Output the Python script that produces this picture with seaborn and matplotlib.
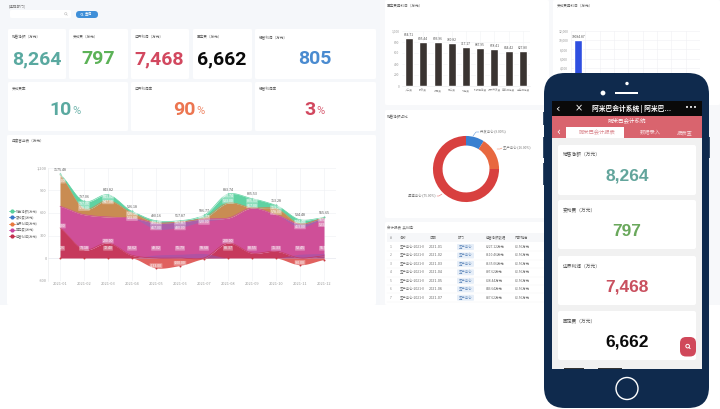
import numpy as np
import seaborn as sns
import matplotlib.pyplot as plt
from matplotlib.patches import Rectangle, FancyBboxPatch, Circle

# kpi cards
kpi_titles = ['销售净额（万元）', '变动费（万元）', '边界利润（万元）', '固定费（万元）', '经营利润（万元）']
kpi_values = ['8,264', '797', '7,468', '6,662', '805']
kpi_colors = ['#5aa9a0', '#5cb257', '#d2485f', '#0a0a0a', '#4a8bd0']
rate_titles = ['变动费率', '边界利润率', '经营利润率']
rate_values = ['10', '90', '3']
rate_colors = ['#5aa9a0', '#ec7550', '#d2485f']

# stacked area, monthly values
months = ['2021-01', '2021-02', '2021-03', '2021-04', '2021-05', '2021-06',
          '2021-07', '2021-08', '2021-09', '2021-10', '2021-11', '2021-12']
profit_pos = [402, 111, 200, 35, 0, 0, 0, 200, 65, 90, 0, 30]
profit_neg = [0, 0, 0, 0, -133, -100, -10, 0, 0, 0, -90, -20]
fixed_cost = [288, 467, 347, 498, 467, 480, 520, 333, 602, 488, 453, 503]
margin = [420, 80, 222, 67, 3, 2, 15, 200, 3, 80, 2, 2]
sales_extra = [10, 97, 75, 22, 27, 15, 35, 120, 121, 44, 55, 5]
purple_top = [0, 0, 0, 0, 80, 70, 30, 0, 0, 0, 40, 10]
purple_low = [0, 0, 0, 0, 40, 50, 60, 0, 0, 0, 50, 60]
top_labels = ['1175.48', '797.06', '843.82', '536.18', '490.16', '517.87',
              '586.77', '883.74', '805.53', '713.28', '534.48', '555.65']
var_labels = ['75.26', '73.18', '72.40', '53.62', '49.02', '51.79',
              '58.68', '88.37', '80.55', '71.33', '53.45', '55.57']
legend_names = ['销售净额(万元)', '变动费(万元)', '边界利润(万元)', '固定费(万元)', '经营利润(万元)']
legend_colors = ['#56cf9b', '#3a78c8', '#e8793f', '#c945a0', '#c4304f']

# bar charts
cost_names = ['人工费', '研发费', '折旧费', '办公费', '水电费', '科技运输费', '技术开发费', '差旅招待费', '业务招待费']
cost_values = [864.71, 805.44, 803.96, 780.82, 717.17, 687.95, 678.41, 644.42, 627.80]
var_names = ['材料费']
var_values = [10084.87]

# donut
dept_names = ['开发中心', '生产中心', '渠道中心']
dept_values = [9.0, 16.0, 75.0]
dept_colors = ['#3a80d0', '#e8683f', '#d8403f']

# table
tbl_dates = ['2021-01', '2021-02', '2021-03', '2021-04', '2021-05', '2021-06', '2021-07']
tbl_sales = ['¥227.12万元', '¥110.46万元', '¥135.06万元', '¥97.62万元', '¥38.44万元', '¥46.64万元', '¥87.62万元']

sns.set_theme(style='white')
plt.rcParams['font.family'] = ['Noto Sans CJK SC', 'DejaVu Sans']
W, H = 720, 409
BIG = 'Roboto'

fig = plt.figure(figsize=(7.2, 4.09), dpi=100, facecolor='white')
bg = fig.add_axes([0, 0, 1, 1], zorder=0)
bg.set_xlim(0, W)
bg.set_ylim(H, 0)
bg.axis('off')


def px_axes(x0, y0, x1, y1, z=1):
    ax = fig.add_axes([x0 / W, 1 - y1 / H, (x1 - x0) / W, (y1 - y0) / H], zorder=z)
    ax.patch.set_alpha(0)
    return ax


def box(ax, x0, y0, x1, y1, color='white', rad=1.5, **kw):
    ax.add_patch(FancyBboxPatch((x0 + rad, y0 + rad), x1 - x0 - 2 * rad, y1 - y0 - 2 * rad,
                                boxstyle=f'round,pad={rad},rounding_size={rad}',
                                fc=color, ec='none', **kw))


def loupe(ax, cx, cy, r, color, lw):
    # magnifier icon, no installed font has the glyph
    ax.add_patch(Circle((cx - r * 0.2, cy - r * 0.2), r, fc='none', ec=color, lw=lw))
    ax.plot([cx + r * 0.5, cx + r * 1.2], [cy + r * 0.5, cy + r * 1.2], color=color, lw=lw)


def smooth(y, n=24):
    # cubic hermite through the monthly values, echarts style smooth line
    y = np.asarray(y, dtype=float)
    m = np.gradient(y) * 0.8
    xs, ys = [], []
    for i in range(len(y) - 1):
        t = np.linspace(0, 1, n)
        h = (2*t**3 - 3*t**2 + 1)*y[i] + (t**3 - 2*t**2 + t)*m[i] + (-2*t**3 + 3*t**2)*y[i+1] + (t**3 - t**2)*m[i+1]
        xs.append(i + t)
        ys.append(h)
    return np.concatenate(xs), np.concatenate(ys)


# page background
bg.add_patch(Rectangle((0, 0), 380, 305, fc='#f5f7fa', ec='none'))
bg.add_patch(Rectangle((380, 0), 340, 305, fc='#f7f8fa', ec='none'))

# filter row
bg.text(9, 6, '[选择部门]', fontsize=2.6, color='#777', va='center')
box(bg, 10, 10, 71, 18)
loupe(bg, 66, 14, 1.2, '#aaa', 0.3)
box(bg, 76, 11, 98, 18, color='#3f8fd8', rad=3.4)
loupe(bg, 82, 14.5, 1.0, 'white', 0.3)
bg.text(88.5, 14.5, '查询', fontsize=2.6, color='white', ha='center', va='center')

# kpi rows
row1 = [(8, 66), (69, 128), (131, 189), (193, 252), (255, 376)]
for (x0, x1), t, v, c in zip(row1, kpi_titles, kpi_values, kpi_colors):
    box(bg, x0, 29, x1, 79)
    bg.text(x0 + 4, 37, t, fontsize=2.6, color='#666', va='center')
    bg.text((x0 + x1) / 2 - 0.5, 59, v, fontsize=14, color=c, ha='center', va='center',
            family=BIG, weight='bold')
row2 = [(8, 128), (131, 252), (255, 376)]
for (x0, x1), t, v, c in zip(row2, rate_titles, rate_values, rate_colors):
    box(bg, x0, 82, x1, 131)
    bg.text(x0 + 4, 89, t, fontsize=2.6, color='#666', va='center')
    xe = (x0 + x1) / 2 + 4 * (len(v) - 1)
    bg.text(xe, 110, v, fontsize=14, color=c, ha='right', va='center', family=BIG, weight='bold')
    bg.text(xe + 0.5, 111, '%', fontsize=8, color=c, ha='left', va='center', family=BIG, alpha=0.85)

# area chart card
box(bg, 7, 135, 376, 305)
bg.text(12, 141, '月度营业表（万元）', fontsize=2.6, color='#666', va='center')

ax = px_axes(48, 168, 336, 280.5)
x = np.arange(len(months))
layers = [np.array(profit_pos), np.array(fixed_cost), np.array(margin), np.array(sales_extra)]
tops = np.cumsum(layers, axis=0)
colors = ['#c6395c', '#cf4f98', '#c98c52', '#5fd2a2']
fx, base = smooth(np.zeros(12))
for top, c in zip(tops, colors):
    fx, fy = smooth(top)
    ax.fill_between(fx, base, fy, color=c, lw=0)
    sns.lineplot(x=fx, y=fy, ax=ax, color=c, lw=0.5, errorbar=None, estimator=None)
    base = fy
fx, fn = smooth(profit_neg)
ax.fill_between(fx, 0, np.minimum(fn, 0), color='#e0615f', lw=0)

# purple bands where the blue series overlaps
fx, mtop = smooth(tops[1])
fx, pt = smooth(purple_top)
ax.fill_between(fx, mtop - np.maximum(pt, 0), mtop, color='#a066b0', alpha=0.75, lw=0)
fx, pl = smooth(purple_low)
ax.fill_between(fx, 0, np.maximum(pl, 0), color='#9a55ac', alpha=0.55, lw=0)

sns.scatterplot(x=x, y=tops[3], ax=ax, color='#3fbf8a', s=2, linewidth=0)
sns.scatterplot(x=x, y=profit_neg, ax=ax, color='#c83a44', s=2, linewidth=0)

pill = dict(boxstyle='round,pad=0.1', fc='white', ec='none', alpha=0.35)
for i in x:
    ax.text(i, tops[3][i] + 30, top_labels[i], fontsize=2.6, color='#555', ha='center', va='bottom')
    ax.text(i, tops[3][i] - 30, top_labels[i], fontsize=2.6, color='white', ha='center', va='center', bbox=pill)
    ax.text(i, tops[3][i] - 95, f'{tops[1][i]:.2f}', fontsize=2.6, color='white', ha='center', va='center', bbox=pill)
    ax.text(i, 130, var_labels[i], fontsize=2.6, color='white', ha='center', va='center', bbox=pill)
    if profit_pos[i] > 150:
        ax.text(i, profit_pos[i] + 25, f'{profit_pos[i]:.2f}', fontsize=2.6, color='white', ha='center', va='center', bbox=pill)
    if profit_neg[i] < -50:
        ax.text(i, profit_neg[i] + 30, f'{profit_neg[i]:.2f}', fontsize=2.6, color='white', ha='center', va='center', bbox=pill)

ax.set_xlim(-0.5, 11.5)
ax.set_ylim(-300, 1200)
ax.set_xticks(x, months)
ax.set_yticks([-300, 0, 300, 600, 900, 1200], ['-300', '0', '300', '600', '900', '1,200'])
ax.tick_params(length=0, labelsize=2.8, labelcolor='#999', pad=1)
ax.grid(True, color='#eef0f3', lw=0.4)
ax.set_axisbelow(True)
sns.despine(ax=ax, left=False, bottom=True, top=True, right=True)
ax.spines['left'].set_color('#e6e8eb')
ax.spines['left'].set_linewidth(0.4)
ax.axhline(0, color='#dde', lw=0.4, zorder=0)

for i, (n, c) in enumerate(zip(legend_names, legend_colors)):
    yy = 211 + i * 6.3
    bg.plot([9, 15], [yy, yy], color=c, lw=0.6)
    bg.plot([12], [yy], 'o', color=c, ms=2)
    bg.text(16, yy, n, fontsize=2.3, color='#777', va='center')

# cost bars
box(bg, 385, 0, 549, 105)
bg.text(387, 6, '固定费用科目（万元）', fontsize=2.6, color='#666', va='center')
ax = px_axes(402, 31, 530, 86)
sns.barplot(x=cost_names, y=cost_values, ax=ax, color='#3a3431', saturation=1, width=0.56)
for p, v in zip(ax.patches, cost_values):
    ax.text(p.get_x() + p.get_width() / 2, v + 18, f'{v:.2f}', fontsize=2.4, color='#555', ha='center', va='bottom')
ax.set_ylim(0, 1000)
ax.set_yticks([0, 200, 400, 600, 800, 1000], ['0', '200', '400', '600', '800', '1,000'])
ax.tick_params(length=0, labelsize=2.4, labelcolor='#999', pad=2)
ax.tick_params(axis='x', labelsize=1.9)
ax.grid(True, axis='both', color='#f2f3f5', lw=0.4)
ax.set_axisbelow(True)
sns.despine(ax=ax, left=True, bottom=False)
ax.spines['bottom'].set_color('#e6e8eb')
ax.spines['bottom'].set_linewidth(0.4)

# variable cost bars
box(bg, 553, 0, 720, 105)
bg.text(557, 6, '变动费用科目（万元）', fontsize=2.6, color='#666', va='center')
ax = px_axes(571, 31, 700, 86)
sns.barplot(x=var_names, y=var_values, ax=ax, color='#2f4fe0', saturation=1, width=0.56)
ax.text(0, var_values[0] + 200, f'{var_values[0]:.2f}', fontsize=2.4, color='#555', ha='center', va='bottom')
ax.set_xlim(-0.5, 8.5)
ax.set_ylim(0, 12000)
ax.set_xticks(np.arange(9) - 0.5, [''] * 9)
ax.set_yticks([0, 2000, 4000, 6000, 8000, 10000, 12000],
              ['0', '2,000', '4,000', '6,000', '8,000', '10,000', '12,000'])
ax.tick_params(length=0, labelsize=2.4, labelcolor='#999', pad=2)
ax.grid(True, color='#eff0f3', lw=0.4)
ax.set_axisbelow(True)
sns.despine(ax=ax, left=True, bottom=True)

# donut
box(bg, 385, 110, 549, 218)
bg.text(387, 117, '销售净额占比', fontsize=2.6, color='#666', va='center')
ax = px_axes(428, 131, 504, 207)
wedges, _ = ax.pie(dept_values, colors=dept_colors, startangle=90, counterclock=False,
                   radius=1, wedgeprops=dict(width=0.29, linewidth=0))
ax.set_xlim(-1.15, 1.15)
ax.set_ylim(-1.15, 1.15)
bg.plot([473, 476, 479], [136, 132, 132], color='#3a80d0', lw=0.3)
bg.text(480, 132, f'{dept_names[0]} ({dept_values[0]:.2f}%)', fontsize=2.4, color='#777', va='center')
bg.plot([497, 500, 502], [149, 149, 148], color='#e8683f', lw=0.3)
bg.text(503, 148, f'{dept_names[1]} ({dept_values[1]:.2f}%)', fontsize=2.4, color='#777', va='center')
bg.plot([442, 439, 437], [194, 196, 196], color='#d8403f', lw=0.3)
bg.text(436, 196, f'{dept_names[2]} ({dept_values[2]:.2f}%)', fontsize=2.4, color='#777', va='center', ha='right')

# table
box(bg, 385, 222, 549, 305)
bg.text(387, 228, '会计报表  共84条', fontsize=2.5, color='#666', va='center')
bg.add_patch(Rectangle((387, 233), 160, 9, fc='#f6f7f9', ec='none'))
col_x = [390, 400, 429, 458, 486, 515]
for cx, t in zip(col_x, ['#', '名称', '日期', '部门', '经营净额数据', '内部销售']):
    bg.text(cx, 238, t, fontsize=2.4, color='#666', va='center')
for i, (d, s) in enumerate(zip(tbl_dates, tbl_sales)):
    yy = 247 + i * 8.45
    bg.text(col_x[0], yy, str(i + 1), fontsize=2.4, color='#888', va='center')
    bg.text(col_x[1], yy, f'生产中心-{d[:6]}', fontsize=2.4, color='#666', va='center')
    bg.text(col_x[2], yy, d, fontsize=2.4, color='#666', va='center', family='DejaVu Sans')
    box(bg, 457, yy - 3, 474, yy + 3, color='#e6eef8', rad=1)
    bg.text(465.5, yy, '生产中心', fontsize=2.4, color='#5a84b8', va='center', ha='center')
    bg.text(col_x[4], yy, s, fontsize=2.4, color='#666', va='center')
    bg.text(col_x[5], yy, '¥3.56万元', fontsize=2.4, color='#666', va='center')
    bg.plot([387, 547], [yy + 4.2, yy + 4.2], color='#f1f2f4', lw=0.3)

# phone overlay
ph = fig.add_axes([0, 0, 1, 1], zorder=5)
ph.set_xlim(0, W)
ph.set_ylim(H, 0)
ph.axis('off')
ph.patch.set_alpha(0)

NAVY = '#0f2a4d'
for bx, by0, by1 in [(543, 112, 125), (543, 137, 158), (543, 163, 185), (708.5, 137, 158)]:
    ph.add_patch(Rectangle((bx, by0), 1.5, by1 - by0, fc='#39506c', ec='none'))
box(ph, 544, 73, 709, 408, color=NAVY, rad=21)
ph.add_patch(Circle((627, 83.5), 1.7, fc='white', ec='none'))
ph.add_patch(Circle((603, 93), 2.4, fc='white', ec='none'))
ph.add_patch(Rectangle((615, 92), 23, 2, fc='white', ec='none'))
ph.add_patch(Circle((627, 388.5), 11, fc='none', ec='white', lw=1))

ph.add_patch(Rectangle((552, 101), 150, 268, fc='#f1f1f1', ec='none'))
ph.add_patch(Rectangle((552, 101), 150, 15, fc='#0a0a0a', ec='none'))
ph.add_patch(Rectangle((552, 116), 150, 22, fc='#d9646e', ec='none'))
ph.text(557, 108.5, '‹', fontsize=8, color='white', ha='center', va='center', family='DejaVu Sans')
ph.text(579, 108.5, '×', fontsize=7, color='white', ha='center', va='center', family='DejaVu Sans')
ph.text(632, 108.5, '阿米巴会计系统 | 阿米巴...', fontsize=4.9, color='white', ha='center', va='center', weight='bold')
ph.text(691, 107.5, '•••', fontsize=5, color='white', ha='center', va='center', family='DejaVu Sans')
ph.text(627, 120.5, '阿米巴会计系统', fontsize=4, color='white', ha='center', va='center')
ph.text(558, 132, '‹', fontsize=7, color='white', ha='center', va='center', family='DejaVu Sans')
ph.add_patch(Rectangle((566, 127), 58, 11, fc='white', ec='none'))
ph.text(597, 133, '阿米巴会计报表', fontsize=3.8, color='#d9858c', ha='center', va='center')
ph.text(650, 133, '数据录入', fontsize=3.8, color='#f6dcde', ha='center', va='center')
ph.text(685, 133, '报表查', fontsize=3.8, color='#f6dcde', ha='center', va='center')

phone_cards = [(145, 195), (200, 249), (256, 305), (311, 360)]
for (y0, y1), t, v, c in zip(phone_cards, kpi_titles, kpi_values, ['#63a59c', '#6aa85c', '#c9505f', '#0a0a0a']):
    box(ph, 558, y0, 696, y1, rad=2)
    ph.text(563, y0 + 10, t, fontsize=3.4, color='#555', va='center')
    ph.text(627, y0 + 31, v, fontsize=12.5, color=c, ha='center', va='center', weight='bold', family='Liberation Sans')
ph.add_patch(Rectangle((564, 367.5), 20, 1.5, fc='#333', ec='none'))
ph.add_patch(Rectangle((598, 367.5), 24, 1.5, fc='#333', ec='none'))
box(ph, 680, 337, 696, 356.5, color='#d0485a', rad=6)
loupe(ph, 688, 346.5, 1.8, 'white', 0.7)

fig.savefig('out.png', dpi=100)
